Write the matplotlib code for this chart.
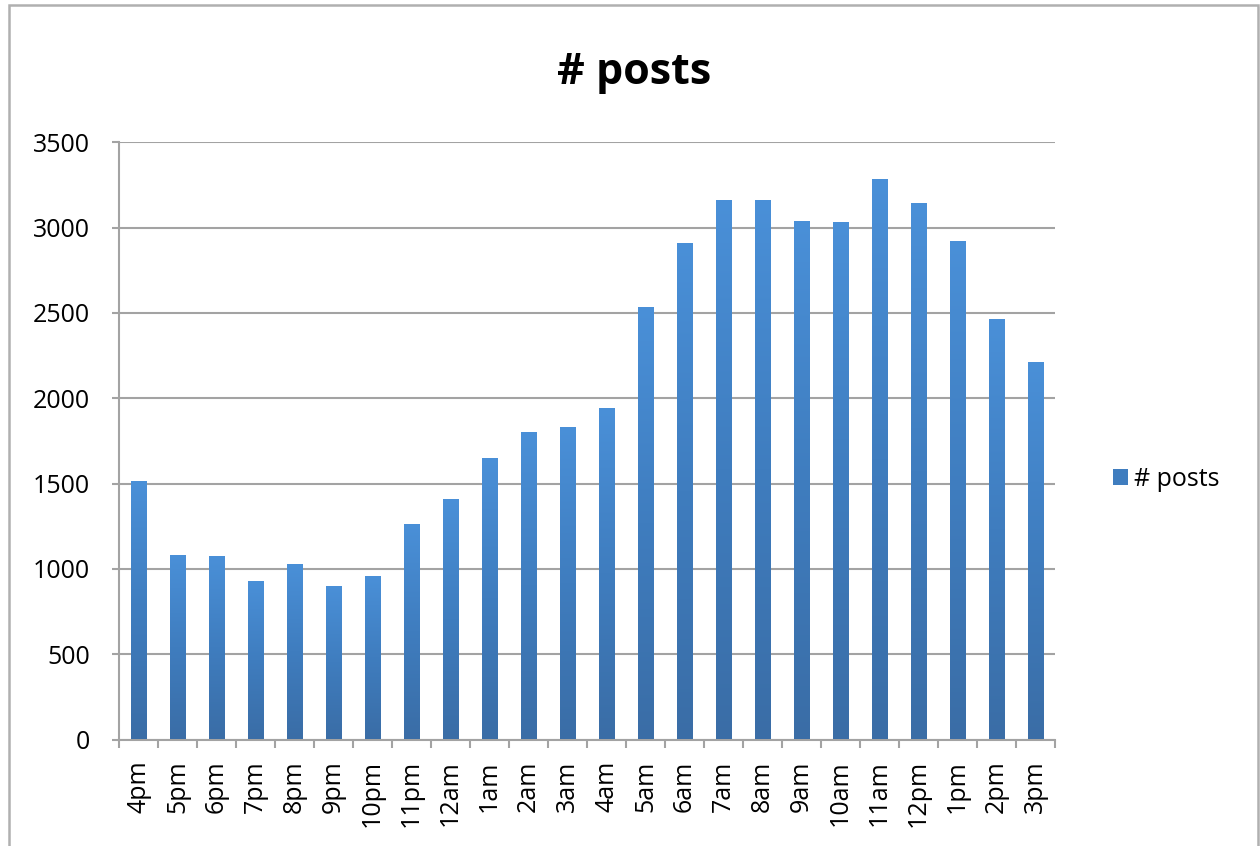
import numpy as np
import matplotlib.pyplot as plt
from matplotlib.patches import Patch, Rectangle
from matplotlib.colors import LinearSegmentedColormap

plt.rcParams['font.family'] = ['Open Sans', 'DejaVu Sans']

hours = ['4pm', '5pm', '6pm', '7pm', '8pm', '9pm', '10pm', '11pm', '12am', '1am', '2am', '3am',
         '4am', '5am', '6am', '7am', '8am', '9am', '10am', '11am', '12pm', '1pm', '2pm', '3pm']
posts = [1516, 1082, 1076, 926, 1028, 901, 959, 1262, 1409, 1649, 1805, 1832,
         1945, 2535, 2910, 3160, 3160, 3040, 3035, 3285, 3145, 2920, 2465, 2215]
yticks = [0, 500, 1000, 1500, 2000, 2500, 3000, 3500]
series_name = '# posts'

grid_col = '#A3A3A3'
bar_cmap = LinearSegmentedColormap.from_list('bars', ['#3A6DA6', '#3F7DBF', '#4A90D8'])

fig = plt.figure(figsize=(12.6, 8.46), dpi=100)
ax = fig.add_axes([119/1260, 1 - 739.5/846, (1055-119)/1260, (739.5-142.3)/846])

x = np.arange(len(hours))
w = 0.4
grad = np.linspace(0, 1, 256).reshape(-1, 1)
bars = ax.bar(x, posts, width=w, color='none', edgecolor='none', zorder=3)
for b in bars:
    im = ax.imshow(grad, cmap=bar_cmap, origin='lower', aspect='auto', zorder=3,
                   extent=[b.get_x(), b.get_x() + b.get_width(), 0, b.get_height()])
    im.set_clip_path(b)

ax.set_xlim(-0.5, len(hours) - 0.5)
ax.set_ylim(0, 3500)
ax.set_yticks(yticks)
ax.yaxis.grid(True, color=grid_col, linewidth=1.5, zorder=0)
ax.set_axisbelow(True)

ax.set_xticks(x)
ax.set_xticklabels(hours, rotation=90, va='top', ha='center')
ax.set_xticks(np.arange(-0.5, len(hours)), minor=True)
ax.tick_params(axis='x', which='major', length=0, pad=15, labelsize=18)
ax.tick_params(axis='x', which='minor', length=6, width=1.5, color=grid_col)
ax.tick_params(axis='y', length=5, width=1.5, color=grid_col, pad=16, labelsize=18)

for s in ['top', 'right']:
    ax.spines[s].set_visible(False)
for s in ['left', 'bottom']:
    ax.spines[s].set_color(grid_col)
    ax.spines[s].set_linewidth(1.5)

fig.text(634/1260, 1 - 73/846, series_name, ha='center', va='center',
         fontsize=31, fontweight='bold')

fig.legend(handles=[Patch(facecolor='#3F7DBF', label=series_name)],
           loc='center left', bbox_to_anchor=(1100/1260, 1 - 479/846),
           frameon=False, fontsize=18, handlelength=0.6, handleheight=0.6,
           handletextpad=0.25, borderpad=0)

# outer chart border
fig.patches.append(Rectangle((9/1260, -0.02), (1258-9)/1260, (846-5)/846 + 0.02,
                             transform=fig.transFigure, fill=False,
                             edgecolor='#B0B0B0', linewidth=1.8))

fig.savefig('out.png', dpi=100)
